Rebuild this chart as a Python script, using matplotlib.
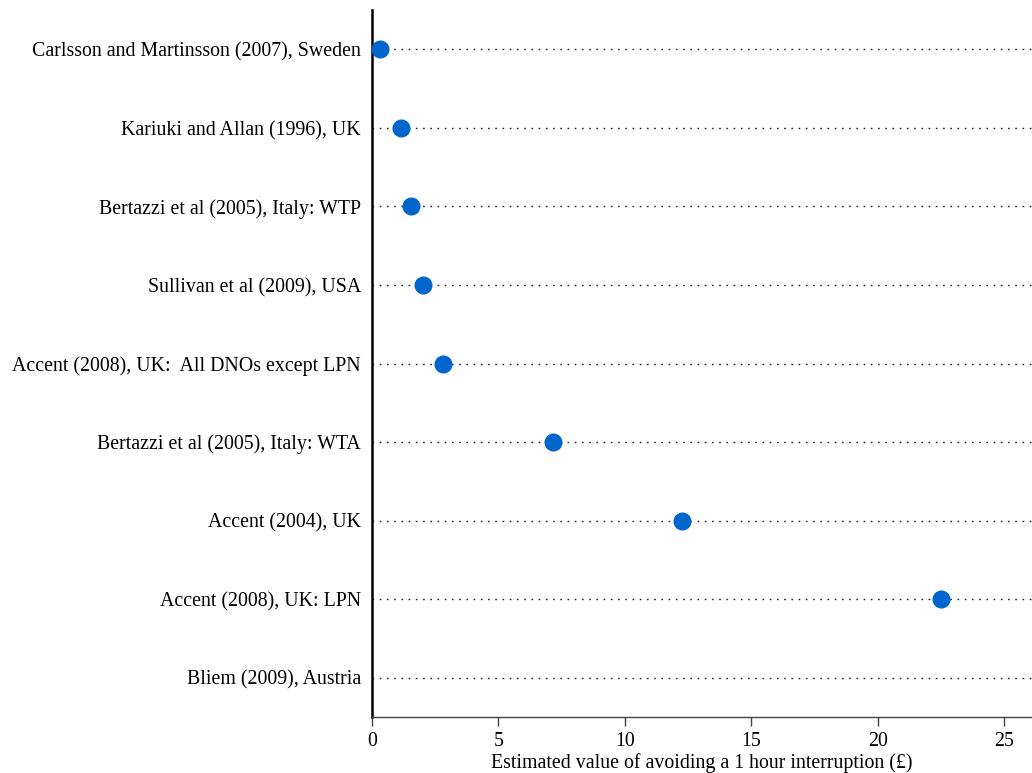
import matplotlib.pyplot as plt
import numpy as np

plt.rcParams['font.family'] = ['Liberation Serif', 'DejaVu Serif']

studies = [
    'Carlsson and Martinsson (2007), Sweden',
    'Kariuki and Allan (1996), UK',
    'Bertazzi et al (2005), Italy: WTP',
    'Sullivan et al (2009), USA',
    'Accent (2008), UK:  All DNOs except LPN',
    'Bertazzi et al (2005), Italy: WTA',
    'Accent (2004), UK',
    'Accent (2008), UK: LPN',
    'Bliem (2009), Austria',
]
# valor estimado (libras); Bliem queda fuera del rango mostrado
values = [0.30, 1.13, 1.56, 2.0, 2.79, 7.17, 12.27, 22.5, np.nan]

fig = plt.figure(figsize=(10.32, 7.73), dpi=100)
ax = fig.add_axes([0.3605, 0.0725, 0.6395, 0.9145])

ys = np.arange(len(studies))
for y in ys:
    ax.plot([0, 30], [y, y], linestyle=(0, (1.2, 4)), color='#222222', lw=1.0,
            zorder=1)
ax.plot(values, ys, 'o', color='#0066cc', markersize=12, zorder=3,
        clip_on=False)

ax.set_xlim(0, 26.1)
ax.set_ylim(len(studies) - 0.5, -0.5)
ax.set_yticks(ys)
ax.set_yticklabels(studies, fontsize=14.3)
ax.tick_params(axis='y', length=0, pad=8)
ax.set_xticks([0, 5, 10, 15, 20, 25])
ax.tick_params(axis='x', direction='out', length=6.5, width=1, labelsize=14.3,
               color='#444444', pad=4)
ax.set_xlabel('Estimated value of avoiding a 1 hour interruption (£)',
              fontsize=14.3, labelpad=2)

ax.spines['top'].set_visible(False)
ax.spines['right'].set_visible(False)
ax.spines['left'].set_linewidth(1.8)
ax.spines['left'].set_color('black')
ax.spines['bottom'].set_linewidth(1.0)
ax.spines['bottom'].set_color('#444444')

fig.savefig('out.png', dpi=100)
